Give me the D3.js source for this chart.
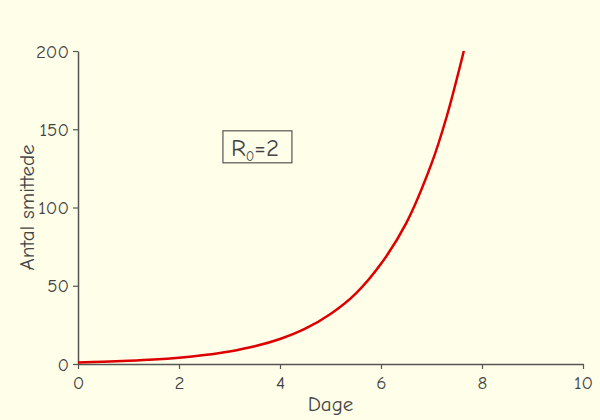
<!DOCTYPE html>
<html>
<head>
<meta charset="utf-8">
<script src="https://cdn.jsdelivr.net/npm/d3@7"></script>
<style>
  body { margin: 0; background: #fefee9; }
  text { font-family: 'Comic Neue', 'Liberation Sans', sans-serif; fill: #444; }
</style>
</head>
<body>
<div id="chart"></div>
<script>
const WIDTH = 600;
const HEIGHT = 420;

// values
const days = [0, 0.5, 1, 1.5, 2, 2.5, 3, 3.5, 4, 4.5, 5, 5.5, 6, 6.5, 7, 7.3, 7.64];
const infected = [1, 1.4, 2, 2.8, 4, 5.7, 8, 11.3, 16, 22.6, 32, 45, 64, 90, 128, 158, 200];
const xTicks = [0, 2, 4, 6, 8, 10];
const yTicks = [0, 50, 100, 150, 200];

function translate(x, y) {
  return `translate(${x}, ${y})`;
}

const margin = {top: 51, right: 17, bottom: 56, left: 78};
const width = WIDTH - margin.left - margin.right;
const height = HEIGHT - margin.top - margin.bottom;

const svg = d3.select('#chart').append('svg')
  .attr('width', WIDTH)
  .attr('height', HEIGHT);

svg.append('rect')
  .attr('width', WIDTH)
  .attr('height', HEIGHT)
  .attr('fill', '#fefee9');

const g = svg.append('g')
  .attr('transform', translate(margin.left, margin.top));

const x = d3.scaleLinear().domain([0, 10]).range([0, width]);
const y = d3.scaleLinear().domain([0, 200]).range([height, 0]);

// Axes
const xAxis = g.append('g')
  .attr('transform', translate(0, height))
  .call(d3.axisBottom(x).tickValues(xTicks).tickSize(5).tickSizeOuter(0).tickPadding(7));

const yAxis = g.append('g')
  .call(d3.axisLeft(y).tickValues(yTicks).tickSize(5).tickSizeOuter(0).tickPadding(4));

for (const ax of [xAxis, yAxis]) {
  ax.attr('font-family', null);
  ax.select('.domain').attr('stroke', '#555').attr('stroke-width', 1.5);
  ax.selectAll('.tick line').attr('stroke', '#555').attr('stroke-width', 1.2);
  ax.selectAll('.tick text')
    .attr('font-size', 19)
    .attr('fill', '#444');
}

// Curve
const line = d3.line()
  .x((d, i) => x(days[i]))
  .y(d => y(d))
  .curve(d3.curveCatmullRom.alpha(0.5));

g.append('path')
  .datum(infected)
  .attr('fill', 'none')
  .attr('stroke', '#dd0000')
  .attr('stroke-width', 2.5)
  .attr('d', line);

// R0 label box
const box = g.append('g').attr('transform', translate(x(2.87), y(149)));
box.append('rect')
  .attr('width', 69)
  .attr('height', 32)
  .attr('fill', 'none')
  .attr('stroke', '#555')
  .attr('stroke-width', 1.2);
const label = box.append('text')
  .attr('x', 8)
  .attr('y', 25)
  .attr('font-size', 25)
  .attr('fill', '#333');
label.append('tspan').text('R');
label.append('tspan').attr('font-size', 14).attr('dy', 5).text('0');
label.append('tspan').attr('dy', -5).text('=2');

// Axis titles
svg.append('text')
  .attr('x', margin.left + width / 2)
  .attr('y', 411)
  .attr('text-anchor', 'middle')
  .attr('font-size', 21)
  .text('Dage');

svg.append('text')
  .attr('transform', translate(34, margin.top + height / 2) + ' rotate(-90)')
  .attr('text-anchor', 'middle')
  .attr('font-size', 21)
  .text('Antal smittede');
</script>
</body>
</html>
